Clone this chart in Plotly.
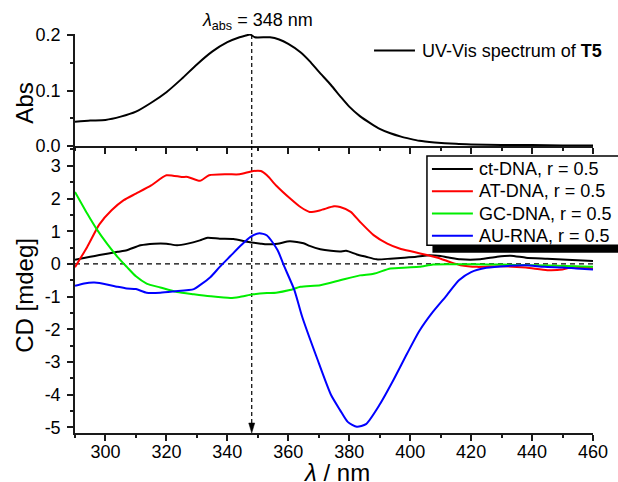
import plotly.graph_objects as go
from plotly.subplots import make_subplots

# ---------------- data ----------------
abs_wl = [290, 295, 300, 305, 310, 315, 320, 325, 330, 335, 340, 344, 346, 347.5, 349, 354, 357, 360, 364, 367,
          370, 374, 377, 380, 383.5, 387, 390, 393.5, 397, 400, 403, 408, 415, 420, 430, 440, 450, 460]
abs_val = [0.044, 0.046, 0.047, 0.053, 0.062, 0.078, 0.097, 0.121, 0.147, 0.170, 0.187, 0.196, 0.199, 0.201, 0.196, 0.196,
           0.192, 0.184, 0.169, 0.153, 0.134, 0.110, 0.090, 0.071, 0.054, 0.041, 0.031, 0.023, 0.017, 0.013, 0.0095,
           0.0066, 0.004, 0.003, 0.002, 0.002, 0.001, 0.001]
abs_name = "UV-Vis spectrum of <b>T5</b>"

ct_wl = [290, 295, 298, 304, 307, 311.5, 316, 320, 323.5, 327, 331, 333.5, 337.5, 342, 346.5, 351, 353, 356.5, 360.5,
         365, 367, 370.5, 374, 377, 379, 382.5, 385.5, 389, 393.5, 398, 402, 405.5, 410, 413, 416.5, 423, 428.5, 433,
         438, 445, 451.5, 460]
ct_val = [0.13, 0.22, 0.27, 0.37, 0.42, 0.57, 0.62, 0.62, 0.57, 0.62, 0.72, 0.80, 0.77, 0.76, 0.68, 0.62, 0.60, 0.62, 0.69,
          0.63, 0.55, 0.45, 0.40, 0.38, 0.40, 0.29, 0.22, 0.14, 0.16, 0.19, 0.22, 0.26, 0.24, 0.19, 0.14, 0.14, 0.22, 0.25,
          0.19, 0.16, 0.13, 0.09]

at_wl = [290, 294, 298, 302, 306, 310, 315, 320, 325, 327, 331, 334, 340, 344, 348.5, 351, 353, 356, 361, 364, 367,
         370.5, 375, 377, 380.5, 383.5, 388, 392.5, 396.5, 401, 405.5, 410, 413, 416.5, 422, 429.5, 438, 445, 450, 453.5, 460]
at_val = [-0.10, 0.52, 1.21, 1.64, 1.95, 2.15, 2.40, 2.71, 2.66, 2.66, 2.54, 2.71, 2.74, 2.74, 2.84, 2.84, 2.71, 2.40, 1.97,
          1.74, 1.59, 1.64, 1.76, 1.74, 1.59, 1.29, 0.88, 0.62, 0.47, 0.37, 0.27, 0.16, 0.06, -0.04, -0.09, -0.07, -0.11,
          -0.19, -0.17, -0.09, -0.14]

gc_wl = [290, 294, 297, 300.5, 304, 307, 310, 313.5, 318, 323.5, 329, 334.5, 341, 344, 348.5, 353, 356, 360.5, 364,
         370.5, 377, 383.5, 388, 393.5, 399, 403, 407.5, 413, 421, 429.5, 440, 451, 460]
gc_val = [2.20, 1.54, 1.08, 0.62, 0.21, -0.09, -0.38, -0.60, -0.72, -0.86, -0.93, -0.99, -1.04, -1.01, -0.93, -0.89, -0.88,
          -0.80, -0.70, -0.65, -0.50, -0.35, -0.30, -0.14, -0.11, -0.09, -0.02, -0.01, -0.01, -0.02, -0.04, -0.06, -0.09]

au_wl = [290, 293, 296, 298, 304, 307, 310, 313.5, 318, 322.5, 329, 331, 334.5, 337.5, 341, 344.5, 347.5, 350.5, 353,
         356.5, 358.5, 362, 364.5, 369.5, 374, 377, 379.5, 382.5, 385.5, 390, 394.5, 399, 403, 407.5, 412, 416, 420,
         425, 432, 438, 444, 450, 454.5, 460]
au_val = [-0.67, -0.60, -0.57, -0.58, -0.70, -0.75, -0.77, -0.88, -0.88, -0.84, -0.77, -0.65, -0.40, -0.09, 0.24, 0.57,
          0.82, 0.94, 0.87, 0.42, -0.04, -0.80, -1.60, -2.90, -4.00, -4.47, -4.83, -4.98, -4.90, -4.30, -3.55, -2.74,
          -2.05, -1.46, -0.96, -0.50, -0.25, -0.12, -0.06, -0.04, -0.09, -0.11, -0.14, -0.17]

cd_names = ["ct-DNA, r = 0.5", "AT-DNA, r = 0.5", "GC-DNA, r = 0.5", "AU-RNA, r = 0.5"]
cd_wls = [ct_wl, at_wl, gc_wl, au_wl]
cd_vals = [ct_val, at_val, gc_val, au_val]
cd_colors = ["#000000", "#ff0000", "#00ee00", "#0000ff"]

lambda_abs = 348
x_range = [290, 460]
abs_range = [0, 0.2018]
cd_range = [-5.17, 3.603]
abs_ticks = [0.0, 0.1, 0.2]
cd_ticks = [-5, -4, -3, -2, -1, 0, 1, 2, 3]

FONT = "Arial, Liberation Sans, sans-serif"
AXC = "#1a1a1a"

# plot-area geometry in pixels (used to place the hand-drawn legend/labels)
W, H = 618, 482
PL, PR, PT, PB = 74.5, 593.3, 34.0, 432.7
SPLIT = 146.0   # border between the two panels


def px(xp):
    return (xp - PL) / (PR - PL)


def py(yp):
    return (PB - yp) / (PB - PT)


fig = make_subplots(rows=2, cols=1, shared_xaxes=True, vertical_spacing=0,
                    row_heights=[(SPLIT - PT) / (PB - PT), (PB - SPLIT) / (PB - PT)])

fig.add_trace(go.Scatter(x=abs_wl, y=abs_val, mode="lines", name=abs_name, showlegend=False,
                         line=dict(color="black", width=2, shape="spline", smoothing=0.6)), row=1, col=1)

for name, wl, val, col in zip(cd_names, cd_wls, cd_vals, cd_colors):
    fig.add_trace(go.Scatter(x=wl, y=val, mode="lines", name=name, showlegend=False,
                             line=dict(color=col, width=2, shape="spline", smoothing=0.6)), row=2, col=1)

minor_x = dict(ticks="outside", ticklen=3.5, tickwidth=1.5, tickcolor=AXC, dtick=10, tick0=290)
fig.update_xaxes(range=x_range, showline=True, linecolor=AXC, linewidth=1.5, ticks="outside",
                 ticklen=6, tickwidth=1.5, tickcolor=AXC, dtick=20, tick0=300, showgrid=False,
                 zeroline=False, minor=minor_x, automargin=False)
fig.update_xaxes(showticklabels=False, row=1, col=1)
fig.update_xaxes(tickfont=dict(family=FONT, size=18, color="black"), ticklabelstandoff=-4, row=2, col=1)

ycommon = dict(showline=True, linecolor=AXC, linewidth=1.5, ticks="outside", ticklen=6, tickwidth=1.5,
               tickcolor=AXC, showgrid=False, zeroline=False, automargin=False, ticklabelstandoff=3,
               tickfont=dict(family=FONT, size=18, color="black"))
fig.update_yaxes(**ycommon)
fig.update_yaxes(range=abs_range, tickvals=abs_ticks, ticktext=[f"{v:.1f}" for v in abs_ticks],
                 minor=dict(ticks="outside", ticklen=3.5, tickwidth=1.5, tickcolor=AXC, dtick=0.05, tick0=0),
                 row=1, col=1)
fig.update_yaxes(range=cd_range, tickvals=cd_ticks, ticktext=[str(v) for v in cd_ticks],
                 minor=dict(ticks="outside", ticklen=3.5, tickwidth=1.5, tickcolor=AXC, dtick=0.5, tick0=0),
                 row=2, col=1)

# zero line (dashed)
fig.add_shape(type="line", xref="x2", yref="y2", x0=x_range[0], x1=x_range[1], y0=0, y1=0,
              line=dict(color="black", width=1.2, dash="5px,4px"), layer="below")
# vertical dashed marker at lambda_abs
fig.add_shape(type="line", xref="x", yref="y", x0=lambda_abs, x1=lambda_abs, y0=0.2, y1=0,
              line=dict(color="black", width=1.2, dash="4px,3px"), layer="below")
fig.add_shape(type="line", xref="x2", yref="y2", x0=lambda_abs, x1=lambda_abs, y0=cd_range[1], y1=cd_range[0] + 0.3,
              line=dict(color="black", width=1.2, dash="4px,3px"), layer="below")
# arrow head
fig.add_shape(type="path", xref="x2", yref="y2", xsizemode="pixel", ysizemode="pixel",
              xanchor=lambda_abs, yanchor=cd_range[0], path="M-3,10 L3,10 L0,0 Z",
              fillcolor="black", line=dict(color="black", width=0.5))

# ---- top legend (drawn by hand) ----
fig.add_shape(type="line", xref="paper", yref="paper", x0=px(374), x1=px(415), y0=py(50.5), y1=py(50.5),
              line=dict(color="black", width=2))
fig.add_annotation(x=px(420), y=py(50.5), xref="paper", yref="paper", text=abs_name, showarrow=False,
                   xanchor="left", yanchor="middle", font=dict(family=FONT, size=18, color="black"))

# ---- CD legend box with drop shadow (drawn by hand) ----
fig.add_shape(type="rect", xref="paper", yref="paper", x0=px(432.5), x1=px(660), y0=py(252.5), y1=py(162),
              fillcolor="black", line=dict(width=0), layer="above")
fig.add_shape(type="rect", xref="paper", yref="paper", x0=px(427), x1=px(650), y0=py(245), y1=py(156),
              fillcolor="white", line=dict(color="black", width=1.5), layer="above")
for i, (name, col) in enumerate(zip(cd_names, cd_colors)):
    yy = 169 + 22.2 * i
    fig.add_shape(type="line", xref="paper", yref="paper", x0=px(432), x1=px(473), y0=py(yy), y1=py(yy),
                  line=dict(color=col, width=2), layer="above")
    fig.add_annotation(x=px(477.5), y=py(yy), xref="paper", yref="paper", text=name, showarrow=False,
                       xanchor="left", yanchor="middle", font=dict(family=FONT, size=18, color="black"))

# ---- labels ----
fig.add_annotation(x=px(315), y=py(22), xref="paper", yref="paper", showarrow=False,
                   text="<i>λ</i><sub>abs</sub> = 348 nm", font=dict(family=FONT, size=18, color="black"),
                   xanchor="right", yanchor="middle")
fig.add_annotation(x=px(23.5), y=py(103.5), xref="paper", yref="paper", showarrow=False, text="Abs",
                   textangle=-90, font=dict(family=FONT, size=24, color="black"),
                   xanchor="center", yanchor="middle")
fig.add_annotation(x=px(24), y=py(295), xref="paper", yref="paper", showarrow=False, text="CD [mdeg]",
                   textangle=-90, font=dict(family=FONT, size=24, color="black"),
                   xanchor="center", yanchor="middle")
fig.add_annotation(x=px(336), y=py(472), xref="paper", yref="paper", showarrow=False, text="<i>λ</i> / nm",
                   font=dict(family=FONT, size=24, color="black"), xanchor="center", yanchor="middle")

fig.update_layout(
    width=W, height=H,
    margin=dict(l=PL, r=W - PR, t=PT, b=H - PB, autoexpand=False),
    plot_bgcolor="white", paper_bgcolor="white",
    font=dict(family=FONT, color="black"),
    showlegend=False,
)

fig.write_html("out.html")
